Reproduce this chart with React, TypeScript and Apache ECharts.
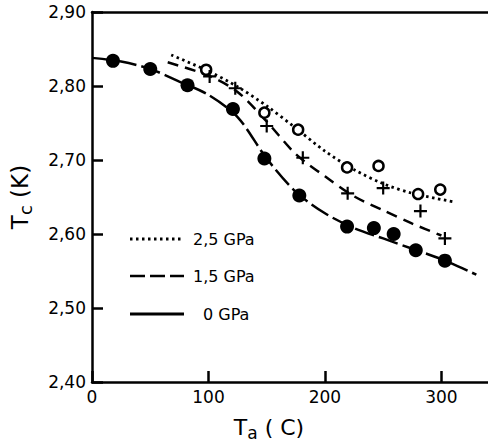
import React, { useEffect, useRef } from "react";
import * as echarts from "echarts";

// Measured points
const dots0GPa: number[][] = [[18, 2.834], [50, 2.823], [82, 2.801], [121, 2.769], [148, 2.702], [178, 2.652], [219, 2.610], [242, 2.608], [259, 2.600], [278, 2.578], [303, 2.564]];
const plus15GPa: number[][] = [[101, 2.813], [123, 2.797], [150, 2.746], [181, 2.703], [219.5, 2.655], [250, 2.662], [282, 2.631], [303, 2.594]];
const circ25GPa: number[][] = [[98, 2.822], [148, 2.764], [177, 2.741], [219, 2.690], [246, 2.692], [280, 2.654], [299, 2.660]];

// Fitted curves
const curve25GPa: number[][] = [[68, 2.842], [100, 2.820], [125, 2.799], [150, 2.773], [175, 2.743], [200, 2.712], [225, 2.687], [250, 2.668], [275, 2.655], [312, 2.643]];
const curve15GPa: number[][] = [[65, 2.832], [100, 2.814], [125, 2.792], [150, 2.752], [175, 2.708], [200, 2.678], [225, 2.651], [250, 2.632], [275, 2.614], [300, 2.598]];
const curve0GPa: number[][] = [[0, 2.838], [25, 2.833], [50, 2.823], [75, 2.806], [100, 2.788], [125, 2.758], [150, 2.702], [175, 2.657], [200, 2.628], [225, 2.608], [250, 2.594], [275, 2.580], [300, 2.566], [330, 2.545]];

const seriesNames = ["2,5 GPa", "1,5 GPa", "0 GPa"];

const FONT = "DejaVu Sans";
const PLUS = "path://M5,0 L7,0 L7,5 L12,5 L12,7 L7,7 L7,12 L5,12 L5,7 L0,7 L0,5 L5,5 Z";

export default function App() {
  const ref = useRef<HTMLDivElement>(null);
  useEffect(() => {
    if (!ref.current) return;
    const chart = echarts.init(ref.current, null, { renderer: "svg" });
    const axisLine = { show: true, lineStyle: { color: "#000", width: 2.5 } };
    const legendRows = [
      { name: seriesNames[0], y: 239, dash: [2.5, 3.5], width: 2.8, tx: 193 },
      { name: seriesNames[1], y: 276, dash: [15, 5], width: 2.5, tx: 193 },
      { name: seriesNames[2], y: 314, dash: null, width: 2.8, tx: 203 },
    ];
    const graphic: any[] = [];
    legendRows.forEach((r) => {
      graphic.push({
        type: "line",
        shape: { x1: 130, y1: r.y, x2: 184, y2: r.y },
        style: { stroke: "#000", lineWidth: r.width, lineDash: r.dash || undefined },
        z: 10,
      });
      graphic.push({
        type: "text",
        x: r.tx,
        y: r.y,
        style: { text: r.name, font: `16px '${FONT}'`, fill: "#000", verticalAlign: "middle", align: "left" },
        z: 10,
      });
    });
    chart.setOption({
      animation: false,
      backgroundColor: "#fff",
      grid: { left: 92, top: 12, bottom: 55, right: -8 },
      graphic,
      xAxis: [
        {
          type: "value",
          min: 0,
          max: 340,
          interval: 100,
          axisLine,
          axisTick: { show: true, inside: true, length: 11, lineStyle: { color: "#000", width: 2.5 } },
          axisLabel: { showMaxLabel: false, color: "#000", fontFamily: FONT, fontSize: 17, margin: 6 },
          splitLine: { show: false },
          name: "T{sub|a} ( C)",
          nameLocation: "middle",
          nameGap: 32,
          nameTextStyle: {
            fontFamily: FONT,
            fontSize: 22,
            color: "#000",
            padding: [0, 42, 0, 0],
            rich: { sub: { fontSize: 17, fontFamily: FONT, padding: [10, 0, 0, 0], color: "#000" } },
          },
        },
        {
          type: "value",
          position: "top",
          min: 0,
          max: 340,
          axisLine,
          axisTick: { show: false },
          axisLabel: { show: false },
          splitLine: { show: false },
        },
      ],
      yAxis: {
        type: "value",
        min: 2.4,
        max: 2.9,
        interval: 0.1,
        axisLine,
        axisTick: { show: true, inside: true, length: 11, lineStyle: { color: "#000", width: 2.5 } },
        axisLabel: {
          color: "#000",
          fontFamily: FONT,
          fontSize: 17,
          margin: 6,
          formatter: (v: number) => v.toFixed(2).replace(".", ","),
        },
        splitLine: { show: false },
        name: "T{sub|c} (K)",
        nameLocation: "middle",
        nameGap: 58,
        nameTextStyle: {
          fontFamily: FONT,
          fontSize: 23,
          color: "#000",
          rich: { sub: { fontSize: 18, fontFamily: FONT, padding: [10, 0, 0, 0], color: "#000" } },
        },
      },
      series: [
        {
          name: seriesNames[0],
          type: "line",
          data: curve25GPa,
          smooth: 0.3,
          symbol: "none",
          lineStyle: { color: "#000", width: 2.8, type: [2.5, 3.5] },
          z: 2,
        },
        {
          name: seriesNames[1],
          type: "line",
          data: curve15GPa,
          smooth: 0.3,
          symbol: "none",
          lineStyle: { color: "#000", width: 2.5, type: [11, 7] },
          z: 2,
        },
        {
          name: seriesNames[2],
          type: "line",
          data: curve0GPa,
          smooth: 0.3,
          symbol: "none",
          lineStyle: { color: "#000", width: 2.5, type: [20, 5] },
          z: 2,
        },
        {
          name: "pts 2.5",
          type: "scatter",
          data: circ25GPa,
          symbol: "circle",
          symbolSize: 10,
          itemStyle: { color: "#fff", borderColor: "#000", borderWidth: 2.5, opacity: 1 },
          z: 3,
        },
        {
          name: "pts 1.5",
          type: "scatter",
          data: plus15GPa,
          symbol: PLUS,
          symbolSize: 13,
          itemStyle: { color: "#000", opacity: 1 },
          z: 3,
        },
        {
          name: "pts 0",
          type: "scatter",
          data: dots0GPa,
          symbol: "circle",
          symbolSize: 14,
          itemStyle: { color: "#000", opacity: 1 },
          z: 3,
        },
      ],
    });
    return () => chart.dispose();
  }, []);
  return <div ref={ref} style={{ width: 488, height: 446, position: "absolute", left: 0, top: 0 }} />;
}
